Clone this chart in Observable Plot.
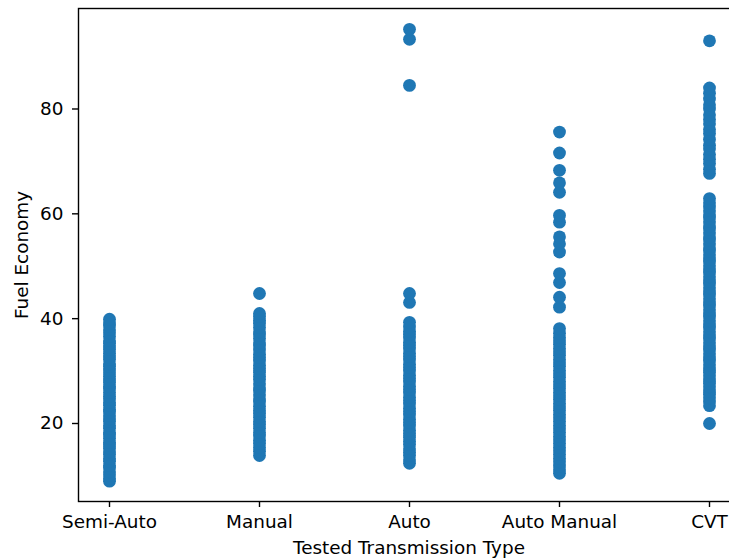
<!DOCTYPE html>
<html><head><meta charset="utf-8">
<script src="https://cdn.jsdelivr.net/npm/d3@7"></script>
<script src="https://cdn.jsdelivr.net/npm/@observablehq/plot@0.6"></script>
<style>html,body{margin:0;padding:0;background:#fff;overflow:hidden;} svg{overflow:hidden;}</style>
</head><body><div id="chart"></div>
<script>
const categories = ["Semi-Auto", "Manual", "Auto", "Auto Manual", "CVT"];
const yTicks = [20, 40, 60, 80];

const semiAuto = [9.0, 9.5, 10.2, 10.8, 11.5, 12.0, 12.8, 13.3, 14.1, 14.6, 15.3, 15.9, 16.4, 17.2, 17.8, 18.3, 19.1, 19.6, 20.4, 20.9, 21.5, 22.2, 22.7, 23.5, 24.0, 24.7, 25.2, 25.9, 26.6, 27.1, 27.8, 28.3, 29.0, 29.7, 30.2, 30.9, 31.4, 32.2, 32.7, 33.4, 34.1, 34.6, 35.3, 35.8, 36.6, 37.3, 37.9, 38.6, 39.2, 39.9];
const manual = [13.9, 14.7, 15.4, 16.2, 16.8, 17.6, 18.3, 19.1, 19.8, 20.4, 21.2, 21.9, 22.5, 23.3, 24.1, 24.7, 25.5, 26.2, 26.8, 27.6, 28.4, 29.0, 29.8, 30.5, 31.1, 31.9, 32.6, 33.2, 34.0, 34.8, 35.4, 36.2, 36.9, 37.5, 38.3, 39.1, 39.7, 40.4, 41.0, 44.8];
const auto = [12.4, 13.1, 13.9, 14.5, 15.2, 16.0, 16.6, 17.4, 18.1, 18.7, 19.5, 20.2, 20.8, 21.6, 22.3, 22.9, 23.7, 24.4, 25.0, 25.8, 26.5, 27.1, 27.9, 28.6, 29.2, 30.0, 30.7, 31.3, 32.1, 32.8, 33.4, 34.2, 34.9, 35.5, 36.3, 37.0, 37.6, 38.4, 39.3, 43.1, 44.8, 84.5, 93.3, 95.2];
const autoManual = [10.5, 11.2, 11.9, 12.7, 13.3, 14.1, 14.8, 15.4, 16.2, 16.9, 17.5, 18.3, 19.0, 19.6, 20.4, 21.1, 21.7, 22.5, 23.2, 23.8, 24.6, 25.3, 25.9, 26.7, 27.4, 28.0, 28.8, 29.5, 30.1, 30.9, 31.6, 32.2, 33.0, 33.7, 34.3, 35.1, 35.8, 36.4, 37.2, 38.1, 42.2, 44.1, 46.9, 48.6, 52.7, 54.3, 55.6, 58.4, 59.7, 64.1, 65.9, 68.3, 71.6, 75.6];
const cvt = [20.0, 23.4, 24.1, 24.9, 25.6, 26.2, 27.0, 27.7, 28.3, 29.1, 29.8, 30.4, 31.2, 31.9, 32.5, 33.3, 34.0, 34.6, 35.4, 36.1, 36.7, 37.5, 38.2, 38.8, 39.6, 40.3, 40.9, 41.7, 42.4, 43.0, 43.8, 44.5, 45.1, 45.9, 46.6, 47.2, 48.0, 48.7, 49.3, 50.1, 50.8, 51.4, 52.2, 52.9, 53.5, 54.3, 55.0, 55.6, 56.4, 57.1, 57.7, 58.5, 59.2, 59.8, 60.6, 61.3, 62.1, 62.9, 67.7, 68.5, 69.6, 70.4, 71.3, 72.4, 73.1, 74.2, 75.3, 76.1, 77.2, 78.0, 78.9, 80.0, 80.8, 81.9, 83.0, 84.0, 93.0];

const series = [semiAuto, manual, auto, autoManual, cvt];
const data = categories.flatMap((c, i) => series[i].map(v => ({type: c, fuel: v})));

const chart = Plot.plot({
  width: 729, height: 558,
  marginLeft: 78, marginRight: -10, marginTop: 8, marginBottom: 57,
  style: {fontFamily: "DejaVu Sans", fontSize: "18.4px", color: "black", background: "white"},
  x: {type: "point", domain: categories, padding: 0.2},
  y: {domain: [5.12, 99.17]},
  marks: [
    Plot.dot(data, {x: "type", y: "fuel", r: 6.4, fill: "#1f77b4", stroke: "none"}),
    Plot.frame({stroke: "black", strokeWidth: 1.4}),
    Plot.axisX({tickSize: 6, tickPadding: 7, fontSize: 18.4, strokeWidth: 1.4, label: "Tested Transmission Type", labelAnchor: "center", labelOffset: 52, labelArrow: "none"}),
    Plot.axisY({ticks: yTicks, tickSize: 6, tickPadding: 9, fontSize: 18.4, strokeWidth: 1.4, label: "Fuel Economy", labelAnchor: "center", labelOffset: 64, labelArrow: "none"})
  ]
});
document.getElementById("chart").appendChild(chart);
</script></body></html>
